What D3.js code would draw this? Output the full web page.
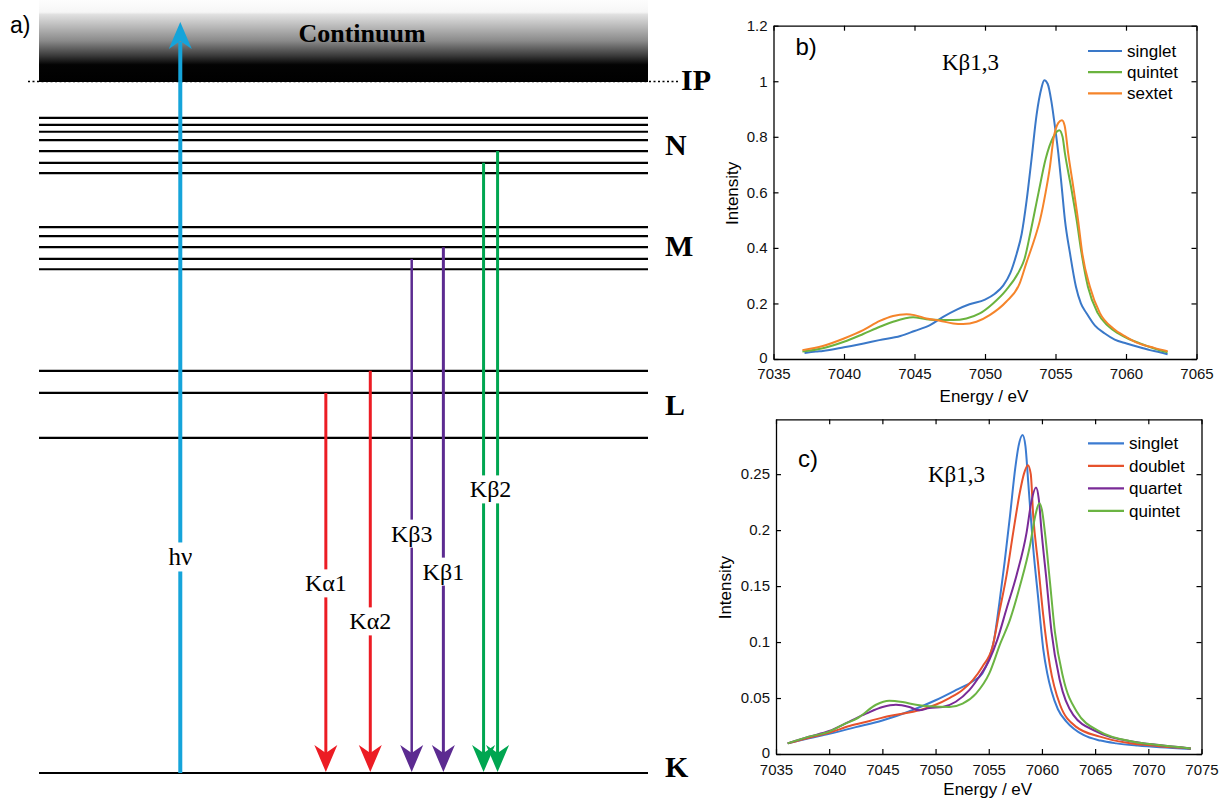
<!DOCTYPE html>
<html>
<head>
<meta charset="utf-8">
<script src="https://cdn.jsdelivr.net/npm/d3@7"></script>
<style>
  body { margin: 0; background: #fff; }
  svg { display: block; }
</style>
</head>
<body>
<svg width="1220" height="798"></svg>
<script>
// ---- a) energy level diagram (energy in arbitrary units, K = 0, IP = 100)
const levelsN = [94.8, 93.8, 92.8, 91.6, 90.0, 88.3, 86.8];
const levelsM = [79.0, 77.7, 76.1, 74.4, 72.9];
const levelsL = [58.2, 55.0, 48.5];
const levelsK = [0];
const ionization = 100;
const continuumTop = 111.9;
const shellNames = ["IP", "N", "M", "L", "K"];
const shellLabelE = [100.3, 90.9, 76.3, 53.3, 0.9];

const excitationSlot = 23.2;
const excitationTop = 108.7;
const excitationLabelE = 31.3;

const emissionNames = ["Kα1", "Kα2", "Kβ3", "Kβ1", "Kβ2"];
const emissionSlots = [[47.1], [54.4], [61.2], [66.4], [73.0, 75.3]];
const emissionFrom = [[55.0], [58.2], [74.4], [76.1], [88.3, 90.0]];
const emissionLabelE = [27.5, 22.0, 34.7, 29.2, 41.1];

// ---- b) spectra
const bSeries = ["singlet", "quintet", "sextet"];
const bSinglet = [[7037.2,0.022],[7038,0.027],[7038.5,0.029],[7040,0.042],[7041.4,0.056],[7042.5,0.068],[7044,0.083],[7045,0.101],[7046.1,0.122],[7047,0.151],[7048,0.178],[7048.9,0.197],[7050,0.214],[7050.7,0.235],[7051.3,0.265],[7051.8,0.31],[7052.25,0.38],[7052.6,0.45],[7052.95,0.57],[7053.3,0.72],[7053.66,0.88],[7054.0,0.975],[7054.2,1.004],[7054.45,0.99],[7054.7,0.93],[7054.9,0.86],[7055.2,0.74],[7055.44,0.62],[7055.67,0.50],[7056.03,0.38],[7056.45,0.26],[7056.8,0.2],[7057.2,0.165],[7057.8,0.12],[7058.5,0.092],[7059.2,0.07],[7060.04,0.056],[7060.9,0.043],[7061.7,0.032],[7062.4,0.024],[7062.95,0.017]];
const bQuintet = [[7037.05,0.027],[7038.5,0.039],[7040,0.062],[7041.36,0.09],[7042.54,0.116],[7043.48,0.134],[7044.9,0.15],[7045.84,0.143],[7046.8,0.14],[7047.74,0.14],[7048.68,0.146],[7049.63,0.164],[7050.57,0.2],[7051.5,0.248],[7052.46,0.32],[7052.8,0.36],[7053.2,0.45],[7053.8,0.6],[7054.3,0.72],[7054.85,0.8],[7055.27,0.824],[7055.5,0.8],[7055.67,0.74],[7056.1,0.62],[7056.5,0.5],[7056.85,0.38],[7057.3,0.26],[7058.0,0.165],[7058.7,0.12],[7059.45,0.092],[7060.2,0.072],[7061.0,0.056],[7062,0.038],[7062.95,0.024]];
const bSextet = [[7037.05,0.032],[7038.5,0.047],[7040,0.074],[7041.36,0.104],[7042.54,0.137],[7043.48,0.155],[7044.43,0.161],[7045,0.158],[7045.84,0.146],[7046.8,0.138],[7047.74,0.128],[7048.45,0.126],[7049.39,0.134],[7050.33,0.158],[7051.5,0.206],[7052.46,0.272],[7052.93,0.345],[7053.5,0.43],[7053.9,0.5],[7054.3,0.6],[7054.6,0.69],[7054.85,0.79],[7055.2,0.85],[7055.46,0.86],[7055.65,0.84],[7055.9,0.74],[7056.26,0.62],[7056.6,0.5],[7056.9,0.38],[7057.44,0.26],[7058.15,0.165],[7059.1,0.11],[7060,0.08],[7060.9,0.056],[7062,0.04],[7062.95,0.028]];
const bXTicks = [7035, 7040, 7045, 7050, 7055, 7060, 7065];
const bYTicks = [0, 0.2, 0.4, 0.6, 0.8, 1, 1.2];

// ---- c) spectra
const cSeries = ["singlet", "doublet", "quartet", "quintet"];
const cSinglet = [[7036.1,0.0095],[7038.1,0.014],[7040,0.018],[7042.5,0.024],[7045,0.030],[7047.5,0.038],[7050,0.048],[7051.9,0.057],[7053.5,0.065],[7054.4,0.072],[7055.05,0.086],[7055.5,0.102],[7056,0.135],[7056.5,0.172],[7057,0.213],[7057.5,0.256],[7057.8,0.275],[7058.18,0.285],[7058.45,0.275],[7058.71,0.243],[7059.18,0.184],[7059.65,0.139],[7060.12,0.094],[7060.5,0.072],[7060.9,0.056],[7061.5,0.04],[7062.3,0.029],[7063.9,0.017],[7065.5,0.012],[7067,0.0095],[7069,0.0075],[7071.1,0.006],[7074,0.0045]];
const cDoublet = [[7036.1,0.0095],[7038.1,0.0146],[7040,0.019],[7041.9,0.025],[7043.8,0.0295],[7045.65,0.034],[7047.5,0.037],[7048.8,0.040],[7050,0.044],[7051.3,0.050],[7052.5,0.057],[7053.5,0.066],[7054.4,0.078],[7055.36,0.096],[7056,0.127],[7056.68,0.16],[7057.3,0.198],[7057.93,0.234],[7058.3,0.25],[7058.68,0.258],[7058.95,0.25],[7059.18,0.213],[7059.65,0.169],[7060.12,0.124],[7060.75,0.079],[7061.7,0.044],[7063.26,0.024],[7065.45,0.0155],[7068,0.01],[7071,0.007],[7074,0.005]];
const cQuartet = [[7036.1,0.0095],[7038.1,0.0155],[7040,0.0205],[7041.9,0.029],[7043.46,0.036],[7045.02,0.042],[7046.28,0.044],[7047.53,0.042],[7048.47,0.039],[7049.4,0.041],[7050.66,0.042],[7051.9,0.0467],[7053.17,0.057],[7054.1,0.069],[7055.05,0.084],[7055.8,0.102],[7056.68,0.13],[7057.62,0.16],[7058.56,0.198],[7059.0,0.225],[7059.44,0.238],[7059.7,0.228],[7059.97,0.198],[7060.44,0.154],[7060.9,0.109],[7061.7,0.065],[7062.94,0.035],[7065.14,0.02],[7068.6,0.011],[7071,0.008],[7074,0.005]];
const cQuintet = [[7036.1,0.0095],[7038.1,0.0155],[7040,0.020],[7041.27,0.026],[7042.83,0.033],[7044.4,0.044],[7045.65,0.0476],[7046.9,0.0464],[7048.16,0.044],[7049.4,0.0426],[7051.3,0.042],[7052.54,0.045],[7053.8,0.054],[7055.05,0.072],[7056.1,0.099],[7057,0.12],[7057.93,0.15],[7058.87,0.186],[7059.4,0.214],[7059.75,0.224],[7060.0,0.218],[7060.28,0.198],[7060.75,0.154],[7061.22,0.109],[7062.0,0.068],[7063.26,0.038],[7065.45,0.02],[7068.6,0.011],[7071,0.008],[7074,0.005]];
const cXTicks = [7035, 7040, 7045, 7050, 7055, 7060, 7065, 7070, 7075];
const cYTicks = [0, 0.05, 0.1, 0.15, 0.2, 0.25];

const svg = d3.select("svg");
const serif = "'Liberation Serif', 'Times New Roman', serif";
const sans = "'Liberation Sans', Arial, Helvetica, sans-serif";

// ================= panel a =================
const ex = d3.scaleLinear().domain([0, 100]).range([39, 648]);
const ey = d3.scaleLinear().domain([0, 100]).range([773, 82]);

const defs = svg.append("defs");
const grad = defs.append("linearGradient").attr("id", "cont")
  .attr("x1", 0).attr("y1", 0).attr("x2", 0).attr("y2", 1);
[[0, "#fdfdfd"], [0.15, "#f6f6f6"], [0.18, "#e0e0e0"], [0.5, "#8a8a8a"], [0.68, "#3a3a3a"], [0.79, "#030303"], [1, "#000"]]
  .forEach(([o, c]) => grad.append("stop").attr("offset", o).attr("stop-color", c));

const a = svg.append("g");

// dotted IP line
a.append("line")
  .attr("x1", ex(0) - 11).attr("x2", ex(100) + 30)
  .attr("y1", ey(ionization) - 0.5).attr("y2", ey(ionization) - 0.5)
  .attr("stroke", "#000").attr("stroke-width", 1.6).attr("stroke-dasharray", "2,2.5");

a.append("rect")
  .attr("x", ex(0)).attr("width", ex(100) - ex(0))
  .attr("y", ey(continuumTop)).attr("height", ey(ionization) - ey(continuumTop))
  .attr("fill", "url(#cont)");

a.append("text").attr("x", 362).attr("y", 42)
  .attr("text-anchor", "middle").attr("font-family", serif)
  .attr("font-weight", "bold").attr("font-size", 26).text("Continuum");

const allLevels = [...levelsN, ...levelsM, ...levelsL, ...levelsK];
a.selectAll("line.level").data(allLevels).join("line")
  .attr("class", "level")
  .attr("x1", ex(0)).attr("x2", ex(100))
  .attr("y1", d => ey(d)).attr("y2", d => ey(d))
  .attr("stroke", "#000").attr("stroke-width", 2.2);

a.selectAll("text.shell").data(shellNames).join("text")
  .attr("class", "shell")
  .attr("x", (d, i) => i === 0 ? ex(100) + 33 : ex(100) + 17)
  .attr("y", (d, i) => ey(shellLabelE[i]))
  .attr("dy", "0.35em")
  .attr("font-family", serif).attr("font-weight", "bold").attr("font-size", 30)
  .text(d => d);

a.append("text").attr("x", 10).attr("y", 33)
  .attr("font-family", sans).attr("font-size", 23).text("a)");

function arrowHead(x, tip, dir) {
  // dir = 1 points down, -1 points up
  const w = 11.5, len = 27, notch = 19;
  return `M${x},${tip} L${x - w},${tip - len * dir} L${x},${tip - notch * dir} L${x + w},${tip - len * dir} Z`;
}

function labelBox(g, x, y, txt, size) {
  const t = g.append("text").attr("x", x).attr("y", y).attr("dy", "0.35em")
    .attr("text-anchor", "middle").attr("font-family", serif)
    .attr("font-size", size).text(txt);
  const bb = t.node().getBBox();
  g.insert("rect", () => t.node())
    .attr("x", bb.x - 2).attr("y", bb.y - 1)
    .attr("width", bb.width + 4).attr("height", bb.height + 2)
    .attr("fill", "#fff");
}

// excitation (h nu)
const blue = "#15a4da";
const hx = ex(excitationSlot);
a.append("line").attr("x1", hx).attr("x2", hx)
  .attr("y1", ey(0)).attr("y2", ey(excitationTop) + 20)
  .attr("stroke", blue).attr("stroke-width", 4);
a.append("path").attr("d", arrowHead(hx, ey(excitationTop), -1)).attr("fill", blue);
labelBox(a.append("g"), hx, ey(excitationLabelE), "hν", 25);

// emission lines
const emColors = ["#ec1c24", "#ec1c24", "#5c2b91", "#5c2b91", "#00a651"];
const emWidths = [[3], [3], [2.5], [3], [3, 3]];
emissionNames.forEach((name, i) => {
  const g = a.append("g");
  emissionSlots[i].forEach((s, j) => {
    const x = ex(s);
    g.append("line").attr("x1", x).attr("x2", x)
      .attr("y1", ey(emissionFrom[i][j])).attr("y2", ey(0) - 20)
      .attr("stroke", emColors[i]).attr("stroke-width", emWidths[i][j]);
  });
  emissionSlots[i].forEach(s => {
    g.append("path").attr("d", arrowHead(ex(s), ey(0) - 1, 1)).attr("fill", emColors[i]);
  });
  const lx = ex(d3.mean(emissionSlots[i]));
  labelBox(g, lx, ey(emissionLabelE[i]), name, 24);
});

// ================= spectra panels =================
function panel(opt) {
  const g = svg.append("g");
  const { x, y } = opt;
  const [x0, x1] = x.range();
  const [y0, y1] = y.range();

  const line = d3.line().x(d => x(d[0])).y(d => y(d[1])).curve(d3.curveMonotoneX);
  opt.data.forEach((d, i) => {
    g.append("path").datum(d).attr("d", line)
      .attr("fill", "none").attr("stroke", opt.colors[i]).attr("stroke-width", 2);
  });

  const fmt = d3.format("~g");
  const bottom = g.append("g").attr("transform", `translate(0,${y0})`)
    .call(d3.axisBottom(x).tickValues(opt.xTicks).tickSize(-5).tickSizeOuter(0).tickPadding(opt.xPad).tickFormat(d3.format("d")));
  g.append("g").attr("transform", `translate(0,${y1})`)
    .call(d3.axisTop(x).tickValues(opt.xTicks).tickSize(-5).tickSizeOuter(0).tickFormat(""));
  const left = g.append("g").attr("transform", `translate(${x0},0)`)
    .call(d3.axisLeft(y).tickValues(opt.yTicks).tickSize(-5).tickSizeOuter(0).tickPadding(6).tickFormat(fmt));
  g.append("g").attr("transform", `translate(${x1},0)`)
    .call(d3.axisRight(y).tickValues(opt.yTicks).tickSize(-5).tickSizeOuter(0).tickFormat(""));
  g.selectAll(".tick line").attr("stroke", "#000").attr("stroke-width", 1.2);
  g.selectAll(".domain").attr("stroke", "#000").attr("stroke-width", 1.3);
  [bottom, left].forEach(ax => ax.selectAll("text")
    .attr("font-family", sans).attr("font-size", 15).attr("fill", "#111"));
  // lift the zero label a touch so it clears the first x label
  left.selectAll(".tick text").filter(d => d === 0).attr("dy", "0.2em");

  g.append("text").attr("x", (x0 + x1) / 2 - 1).attr("y", opt.xTitleY)
    .attr("text-anchor", "middle").attr("font-family", sans).attr("font-size", 17)
    .text("Energy / eV");
  g.append("text").attr("transform", `translate(${opt.yTitleX},${(y0 + y1) / 2 + 1}) rotate(-90)`)
    .attr("text-anchor", "middle").attr("font-family", sans).attr("font-size", 17)
    .text("Intensity");

  g.append("text").attr("x", x0 + 22).attr("y", opt.tagY)
    .attr("font-family", sans).attr("font-size", 24).text(opt.tag);
  g.append("text").attr("x", opt.kbX).attr("y", opt.tagY + 15)
    .attr("font-family", serif).attr("font-size", 23).text("Kβ1,3");

  opt.names.forEach((n, i) => {
    const ly = opt.legY + i * opt.legStep;
    g.append("line").attr("x1", 1088).attr("x2", 1088 + opt.legLen)
      .attr("y1", ly).attr("y2", ly)
      .attr("stroke", opt.colors[i]).attr("stroke-width", 2.2);
    g.append("text").attr("x", 1093 + opt.legLen).attr("y", ly).attr("dy", "0.35em")
      .attr("font-family", sans).attr("font-size", 17).text(n);
  });
}

panel({
  x: d3.scaleLinear().domain([7035, 7065]).range([773.5, 1196.5]),
  y: d3.scaleLinear().domain([0, 1.2]).range([359, 25.7]),
  data: [bSinglet, bQuintet, bSextet],
  names: bSeries,
  colors: ["#3a78c8", "#6ab33e", "#f5842a"],
  xTicks: bXTicks, yTicks: bYTicks, xPad: 9,
  xTitleY: 402, yTitleX: 738,
  tag: "b)", tagY: 55, kbX: 942,
  legY: 51, legStep: 21.2, legLen: 34
});

panel({
  x: d3.scaleLinear().domain([7035, 7075]).range([776, 1201.5]),
  y: d3.scaleLinear().domain([0, 0.299]).range([754, 419.3]),
  data: [cSinglet, cDoublet, cQuartet, cQuintet],
  names: cSeries,
  colors: ["#3b7bd1", "#e6522c", "#7a2b97", "#6bb443"],
  xTicks: cXTicks, yTicks: cYTicks, xPad: 10,
  xTitleY: 795, yTitleX: 731,
  tag: "c)", tagY: 467, kbX: 928,
  legY: 443.3, legStep: 22.5, legLen: 36
});
</script>
</body>
</html>
